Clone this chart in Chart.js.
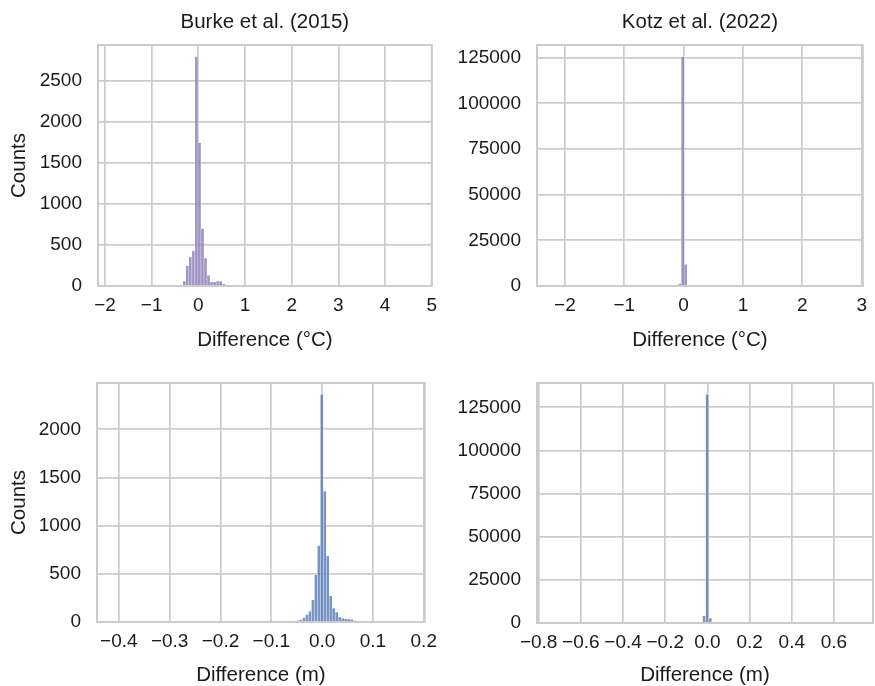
<!DOCTYPE html>
<html>
<head>
<meta charset="utf-8">
<script src="https://cdn.jsdelivr.net/npm/chart.js@4"></script>
<style>
  body { margin: 0; background: #fff; width: 875px; height: 686px; position: relative; overflow: hidden; }
  canvas { position: absolute; }
</style>
</head>
<body>
<canvas id="burkeTemp" style="left:0;top:0" width="445" height="355"></canvas>
<canvas id="kotzTemp" style="left:440px;top:0" width="435" height="355"></canvas>
<canvas id="burkePrec" style="left:0;top:345px" width="445" height="341"></canvas>
<canvas id="kotzPrec" style="left:440px;top:345px" width="435" height="341"></canvas>
<script>
// histogram bins: left edge of bin 0, bin width, non-empty bin indices and their counts
const burkeTempStart = -1.826, burkeTempWidth = 0.0649;
const burkeTempBins   = [1, 2, 20, 21, 22, 23, 24, 25, 26, 27, 28, 29, 30, 31, 32, 33, 34, 35, 36, 44, 98, 99];
const burkeTempCounts = [4, 3, 5, 8, 12, 60, 246, 357, 430, 2800, 1750, 700, 340, 131, 50, 50, 60, 60, 25, 3, 3, 4];

const kotzTempStart = -2.1954, kotzTempWidth = 0.0501;
const kotzTempBins   = [0, 42, 43, 44, 45, 99];
const kotzTempCounts = [2, 1300, 125600, 11900, 300, 1];

const burkePrecStart = -0.414, burkePrecWidth = 0.005864;
const burkePrecBins   = [0, 53, 54, 59, 60, 61, 62, 63, 64, 65, 66, 67, 68, 69, 70, 71, 72, 73, 74, 75, 76, 77, 78, 79, 80, 81, 82, 83, 84, 85, 86, 99];
const burkePrecCounts = [1, 15, 3, 3, 6, 10, 15, 24, 45, 76, 110, 231, 490, 793, 2363, 1359, 686, 272, 145, 103, 52, 37, 34, 31, 28, 14, 8, 6, 4, 3, 3, 1];

const kotzPrecStart = -0.7325, kotzPrecWidth = 0.01448;
const kotzPrecBins   = [0, 49, 50, 51, 99];
const kotzPrecCounts = [1, 4200, 132500, 2900, 1];

// axis limits and ticks
const burkeTempXRange = [-2.15, 5.0],  burkeTempYMax = 2940;
const kotzTempXRange  = [-2.47, 3.02], kotzTempYMax  = 131900;
const burkePrecXRange = [-0.443, 0.202], burkePrecYMax = 2481;
const kotzPrecXRange  = [-0.808, 0.785], kotzPrecYMax  = 139100;

const burkeTempXTicks = [-2, -1, 0, 1, 2, 3, 4, 5];
const kotzTempXTicks  = [-2, -1, 0, 1, 2, 3];
const burkePrecXTicks = [-0.4, -0.3, -0.2, -0.1, 0.0, 0.1, 0.2];
const kotzPrecXTicks  = [-0.8, -0.6, -0.4, -0.2, 0.0, 0.2, 0.4, 0.6];
const burkeTempYTicks = [0, 500, 1000, 1500, 2000, 2500];
const kotzTempYTicks  = [0, 25000, 50000, 75000, 100000, 125000];
const burkePrecYTicks = [0, 500, 1000, 1500, 2000];
const kotzPrecYTicks  = [0, 25000, 50000, 75000, 100000, 125000];

const titles = ["Burke et al. (2015)", "Kotz et al. (2022)"];
const xLabels = ["Difference (°C)", "Difference (m)"];
const yLabel = "Counts";

const FONT = "'Liberation Sans', Arial, Helvetica, sans-serif";
const TEXT = "#1a1a1a";
const GRID = "#cccccc";
const PURPLE = "rgba(129, 114, 179, 0.75)";
const BLUE = "rgba(76, 114, 176, 0.75)";

const frame = {
  id: "frame",
  afterDatasetsDraw(chart) {
    const a = chart.chartArea, ctx = chart.ctx;
    ctx.save();
    ctx.strokeStyle = GRID;
    ctx.lineWidth = 2;
    ctx.strokeRect(a.left, a.top, a.right - a.left, a.bottom - a.top);
    ctx.restore();
  }
};

function fmtX(dec) {
  return v => (v < 0 ? "\u2212" : "") + Math.abs(v).toFixed(dec);
}

function histogram(id, p) {
  const pts = p.bins.map((b, i) => ({ x: p.start + (b + 0.5) * p.width, y: p.counts[i] }));
  const scales = {
    x: {
      type: "linear",
      offset: false,
      min: p.xRange[0],
      max: p.xRange[1],
      afterBuildTicks: s => { s.ticks = p.xTicks.map(v => ({ value: v })); },
      afterFit: s => { s.height = p.xH; },
      grid: { color: GRID, lineWidth: 1.7, drawTicks: false, offset: false },
      border: { display: false },
      ticks: { padding: 8, color: TEXT, font: { family: FONT, size: 19 }, maxRotation: 0, autoSkip: false, callback: fmtX(p.dec) },
      title: { display: true, text: p.xLabel, color: TEXT, font: { family: FONT, size: 20.5, lineHeight: 1.2 }, padding: { top: 0, bottom: p.xTitlePad } }
    },
    y: {
      min: 0,
      max: p.yMax,
      afterBuildTicks: s => { s.ticks = p.yTicks.map(v => ({ value: v })); },
      afterFit: s => { s.width = p.yW; },
      grid: { color: GRID, lineWidth: 1.7, drawTicks: false },
      border: { display: false },
      ticks: { padding: 16, color: TEXT, font: { family: FONT, size: 19 }, autoSkip: false, callback: v => String(v) },
      title: { display: !!p.yLabel, text: p.yLabel, color: TEXT, font: { family: FONT, size: 20.5, lineHeight: 1.2 }, padding: { top: 7, bottom: 0 } }
    }
  };
  if (p.title) {
    // panel title sits on an empty top axis so it centres over the plot area
    scales.top = {
      type: "linear",
      position: "top",
      afterFit: s => { s.height = 45; },
      grid: { display: false },
      border: { display: false },
      ticks: { display: false },
      title: { display: true, text: p.title, color: TEXT, font: { family: FONT, size: 20.5, lineHeight: 1.2 }, padding: { top: 10, bottom: 0 } }
    };
  }
  return new Chart(document.getElementById(id), {
    type: "bar",
    data: {
      datasets: [{
        data: pts,
        xAxisID: "x",
        yAxisID: "y",
        backgroundColor: p.color,
        borderColor: "rgba(255,255,255,0.6)",
        borderWidth: 0.5,
        borderSkipped: "start",
        categoryPercentage: 1,
        barPercentage: 1,
        grouped: false
      }]
    },
    options: {
      responsive: false,
      animation: false,
      devicePixelRatio: 1,
      layout: { autoPadding: false, padding: p.pad },
      plugins: {
        legend: { display: false },
        tooltip: { enabled: false },
        title: { display: false }
      },
      scales: scales
    },
    plugins: [frame]
  });
}

histogram("burkeTemp", {
  start: burkeTempStart, width: burkeTempWidth, bins: burkeTempBins, counts: burkeTempCounts,
  xRange: burkeTempXRange, yMax: burkeTempYMax, xTicks: burkeTempXTicks, yTicks: burkeTempYTicks, dec: 0,
  color: PURPLE, title: titles[0], xLabel: xLabels[0], yLabel: yLabel,
  pad: { top: 0, right: 10, bottom: 0, left: 0 }, yW: 98, xH: 69, xTitlePad: 2
});
histogram("kotzTemp", {
  start: kotzTempStart, width: kotzTempWidth, bins: kotzTempBins, counts: kotzTempCounts,
  xRange: kotzTempXRange, yMax: kotzTempYMax, xTicks: kotzTempXTicks, yTicks: kotzTempYTicks, dec: 0,
  color: PURPLE, title: titles[1], xLabel: xLabels[0], yLabel: "",
  pad: { top: 0, right: 6, bottom: 0, left: 0 }, yW: 97, xH: 69, xTitlePad: 2
});
histogram("burkePrec", {
  start: burkePrecStart, width: burkePrecWidth, bins: burkePrecBins, counts: burkePrecCounts,
  xRange: burkePrecXRange, yMax: burkePrecYMax, xTicks: burkePrecXTicks, yTicks: burkePrecYTicks, dec: 1,
  color: BLUE, title: "", xLabel: xLabels[1], yLabel: yLabel,
  pad: { top: 38, right: 12, bottom: 0, left: 0 }, yW: 97, xH: 64, xTitlePad: -2
});
histogram("kotzPrec", {
  start: kotzPrecStart, width: kotzPrecWidth, bins: kotzPrecBins, counts: kotzPrecCounts,
  xRange: kotzPrecXRange, yMax: kotzPrecYMax, xTicks: kotzPrecXTicks, yTicks: kotzPrecYTicks, dec: 1,
  color: BLUE, title: "", xLabel: xLabels[1], yLabel: "",
  pad: { top: 38, right: 2, bottom: 0, left: 0 }, yW: 97, xH: 63, xTitlePad: -2
});
</script>
</body>
</html>
